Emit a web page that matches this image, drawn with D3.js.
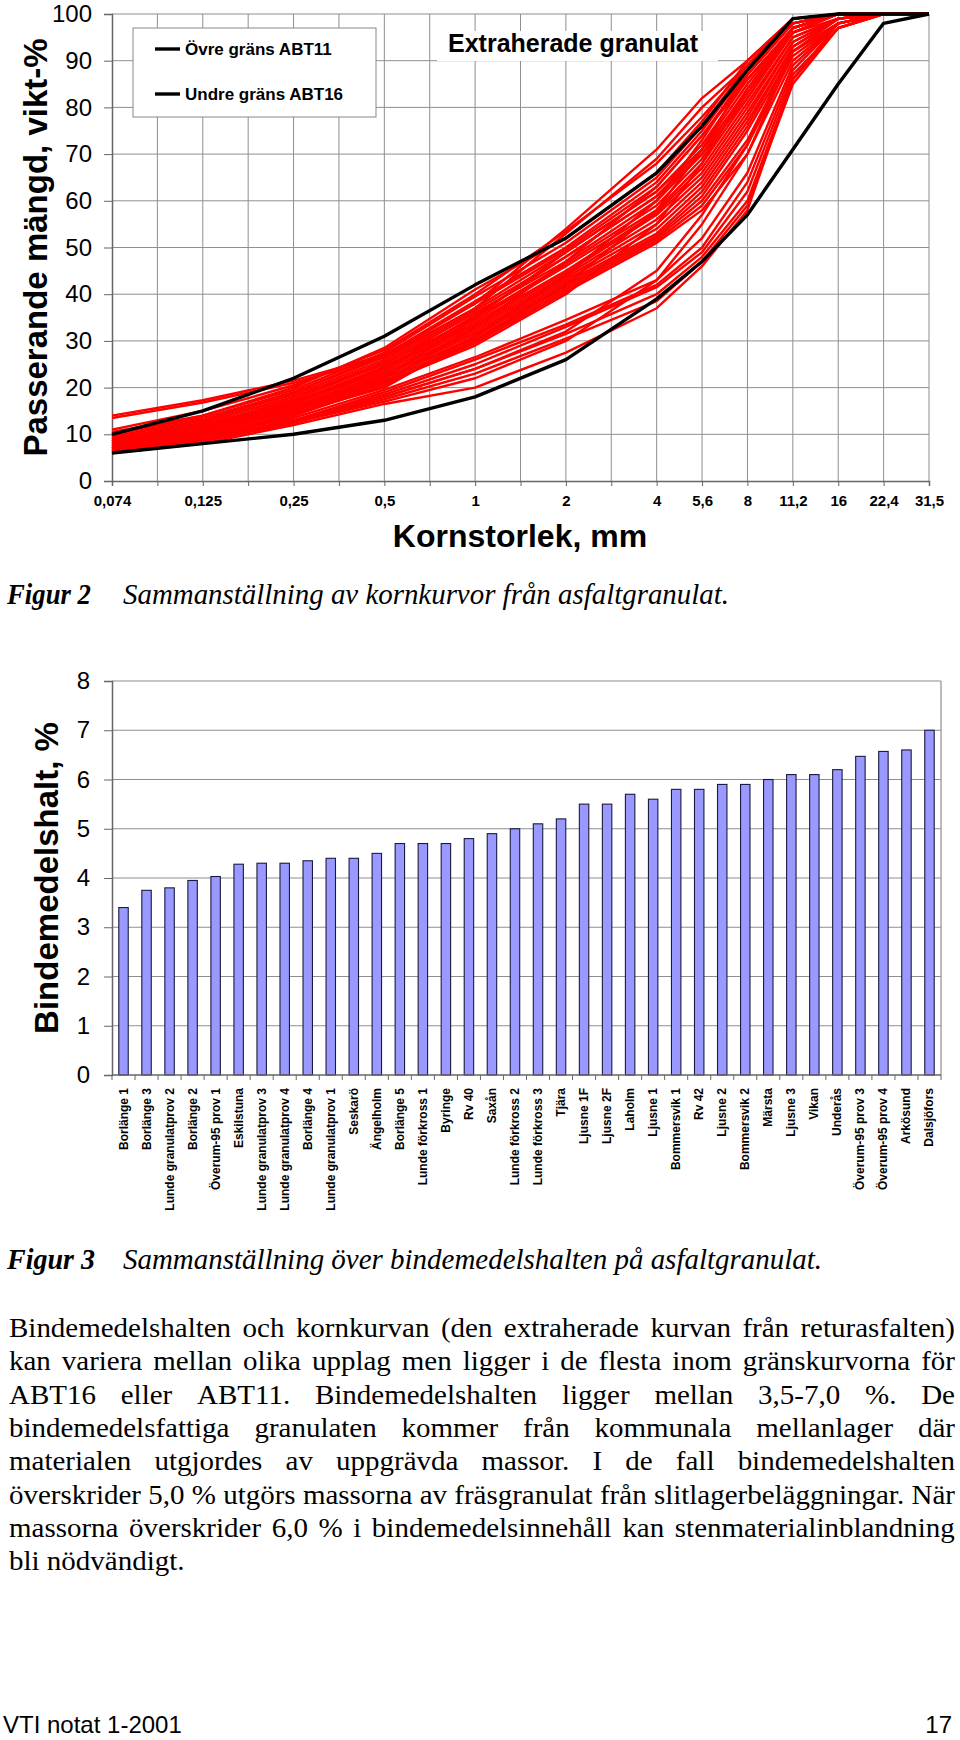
<!DOCTYPE html>
<html><head><meta charset="utf-8">
<script src="https://cdn.jsdelivr.net/npm/d3@7"></script>
<style>body{margin:0;background:#fff} svg{display:block}</style>
</head><body>
<svg id="c" width="960" height="1740"></svg>
<script>
// ---------- Figur 2 data ----------
const sieveLabels = ["0,074","","0,125","","0,25","","0,5","","1","","2","","4","5,6","8","11,2","16","22,4","31,5"];
const sieveIdx = [0,2,4,6,8,10,12,13,14,15,16,17,18]; // categories that carry values
const upperABT11 = [10,15,22,31,42,52,66,76,88,99,100,100,100];
const lowerABT16 = [6,8,10,13,18,26,39,47,57,71,85,98,100];
const redCurves = [
  [14,17.3,21.5,27,38,54,71,82,90,99,100,100,100],
  [13.5,16.8,21,26.5,37,53,69,80,89,99,100,100,100],
  [11,15,20.5,28,40,53.5,68,78,89,98,100,100,100],
  [10.5,14,20,28.5,41,52,66,77,90,99,100,100,100],
  [10,14,19.5,27.5,39.5,51,65,76,89,99,100,100,100],
  [10,13.5,19,27,38.5,50,64,75,88,98,100,100,100],
  [9.5,13,19,26.5,38,49.5,63,74,87,98,100,100,100],
  [9.5,13,18.5,26,37,49,62,72,86,97,100,100,100],
  [9,12.5,18,25.5,36.5,48,61,71,85,97,100,100,100],
  [9,12.5,18,25,36,47,60,70,84,96,100,100,100],
  [8.5,12,17.5,25,35,46.5,59,69,83,97,100,100,100],
  [8.5,12,17,24.5,34.5,46,58,68,82,96,99,100,100],
  [8,11.5,17,24,34,45,57.5,67,81,95,99,100,100],
  [8,11.5,16.5,24,33.5,44.5,57,66,80,95,99,100,100],
  [8,11,16.5,23.5,33,44,56,65,79,94,99,100,100],
  [7.5,11,16,23,32.5,43.5,55,64,78,94,99,100,100],
  [7.5,10.5,16,23,32,43,54,63,77,93,99,100,100],
  [7.5,10.5,15.5,22.5,31.5,42.5,53,62,76,93,99,100,100],
  [7,10.5,15.5,22,31,42,52.5,61,75,92,98,100,100],
  [7,10,15,22,30.5,41.5,52,60,73,92,98,100,100],
  [7,10,15,21.5,30,41,51.5,59,72,91,98,100,100],
  [6.5,9.5,14.5,21,29.5,40.5,51,58,70,90,98,100,100],
  [6.5,9.5,14,21,29,40,55,68,84,97,100,100,100],
  [6.5,9,14,20.5,30,42,58,71,87,98,100,100,100],
  [7,9.5,14.5,20,31,44,60,73,88,98,100,100,100],
  [8,10.5,15,21,33,47,63,74,86,97,100,100,100],
  [9,12,16,22,35,49,62,71,83,96,100,100,100],
  [8.5,11.5,17,24,35.5,48,61,70,82,96,100,100,100],
  [7,9.5,13.5,19.5,26.5,34.5,43,52,66,89,98,100,100],
  [6.5,9,13,19,26,33.5,42,50,64,88,98,100,100],
  [6.5,9,13,18.5,25,33,41.5,49,62,87,97,100,100],
  [6,8.5,12.5,18,24,31.5,40,48,60,86,97,100,100],
  [6,8.5,12.5,17.5,23,30.5,38.5,47,59,85,97,100,100],
  [6,8,12,16.5,20,27.5,37,46,58,86,98,100,100],
  [6.5,8.5,12.5,17,22,30,43,55,70,92,99,100,100],
  [7,9,13,18,24,32,45,57,72,93,99,100,100]
];
const yTicksTop = [0,10,20,30,40,50,60,70,80,90,100];
const legendNames = ["Övre gräns ABT11","Undre gräns ABT16"];

// ---------- Figur 3 data ----------
const barCategories = ["Borlänge 1","Borlänge 3","Lunde granulatprov 2","Borlänge 2","Överum-95 prov 1","Eskilstuna",
  "Lunde granulatprov 3","Lunde granulatprov 4","Borlänge 4","Lunde granulatprov 1","Seskarö","Ängelholm","Borlänge 5",
  "Lunde förkross 1","Byringe","Rv 40","Saxån","Lunde förkross 2","Lunde förkross 3","Tjära","Ljusne 1F","Ljusne 2F",
  "Laholm","Ljusne 1","Bommersvik 1","Rv 42","Ljusne 2","Bommersvik 2","Märsta","Ljusne 3","Vikan","Underås",
  "Överum-95 prov 3","Överum-95 prov 4","Arkösund","Dalsjöfors"];
const barValues = [3.4,3.75,3.8,3.95,4.03,4.28,4.3,4.3,4.35,4.4,4.4,4.5,4.7,4.7,4.7,4.8,4.9,5.0,5.1,5.2,5.5,5.5,
  5.7,5.6,5.8,5.8,5.9,5.9,6.0,6.1,6.1,6.2,6.47,6.57,6.6,7.0];
const yTicksBar = [0,1,2,3,4,5,6,7,8];

// ---------- text ----------
const caption2 = ["Figur 2","Sammanställning av kornkurvor från asfaltgranulat."];
const caption3 = ["Figur 3","Sammanställning över bindemedelshalten på asfaltgranulat."];
const bodyLines = [
  "Bindemedelshalten och kornkurvan (den extraherade kurvan från returasfalten)",
  "kan variera mellan olika upplag men ligger i de flesta inom gränskurvorna för",
  "ABT16 eller ABT11. Bindemedelshalten ligger mellan 3,5-7,0 %. De",
  "bindemedelsfattiga granulaten kommer från kommunala mellanlager där",
  "materialen utgjordes av uppgrävda massor. I de fall bindemedelshalten",
  "överskrider 5,0 % utgörs massorna av fräsgranulat från slitlagerbeläggningar. När",
  "massorna överskrider 6,0 % i bindemedelsinnehåll kan stenmaterialinblandning",
  "bli nödvändigt."
];

const svg = d3.select("#c");
const SANS = "'Liberation Sans', Arial, sans-serif";
const GRID = "#8f8f8f";

// pick an installed Times-like serif font
function hasFont(name) {
  const t = svg.append("text").attr("font-size", 40).text("abcdefghijklmnopqrstuvwxyz ABCDEFG 0123");
  t.attr("font-family", "monospace");
  const w0 = t.node().getComputedTextLength();
  t.attr("font-family", `"${name}", monospace`);
  const w1 = t.node().getComputedTextLength();
  t.remove();
  return Math.abs(w1 - w0) > 0.5;
}
const serifCands = ["Liberation Serif","Times New Roman","Times","Tinos","Nimbus Roman","Nimbus Roman No9 L","FreeSerif","Noto Serif","DejaVu Serif"];
const serifName = serifCands.find(hasFont) || "serif";
const SERIF = `"${serifName}", serif`;
const timesLike = ["Liberation Serif","Times New Roman","Times","Tinos","Nimbus Roman","Nimbus Roman No9 L","FreeSerif"].includes(serifName);

// ================= FIGUR 2 =================
const L = 112, R = 929, T = 14, B = 481;
const x = d3.scalePoint().domain(d3.range(sieveLabels.length)).range([L, R]);
const y = d3.scaleLinear().domain([0, 100]).range([B, T]);
const g1 = svg.append("g");

g1.append("g").selectAll("line").data(yTicksTop.filter(v => v > 0)).join("line")
  .attr("x1", L).attr("x2", R).attr("y1", d => y(d)).attr("y2", d => y(d))
  .attr("stroke", GRID).attr("stroke-width", 1);
g1.append("g").selectAll("line").data(x.domain().slice(1)).join("line")
  .attr("x1", d => x(d)).attr("x2", d => x(d)).attr("y1", T).attr("y2", B)
  .attr("stroke", GRID).attr("stroke-width", 1);

g1.append("rect").attr("x", 437).attr("y", 31).attr("width", 281).attr("height", 30).attr("fill", "#fff");

const ax = g1.append("g").attr("transform", `translate(0,${B})`)
  .call(d3.axisBottom(x).tickSize(5).tickPadding(9).tickFormat(i => sieveLabels[i]));
ax.select(".domain").attr("stroke", "#666").attr("stroke-width", 1.5);
ax.selectAll(".tick line").attr("stroke", "#666");
ax.selectAll("text").attr("font-family", SANS).attr("font-size", 15).attr("font-weight", "bold").attr("fill", "#000");
const ay = g1.append("g").attr("transform", `translate(${L},0)`)
  .call(d3.axisLeft(y).tickValues(yTicksTop).tickSize(8).tickPadding(12).tickFormat(d3.format("d")));
ay.select(".domain").attr("stroke", "#666").attr("stroke-width", 1.5);
ay.selectAll(".tick line").attr("stroke", "#666");
ay.selectAll("text").attr("font-family", SANS).attr("font-size", 24).attr("fill", "#000");

const lineGen = d3.line().x(d => x(d[0])).y(d => y(d[1]));
const toPts = arr => arr.map((v, k) => [sieveIdx[k], v]);
g1.append("g").selectAll("path").data(redCurves).join("path")
  .attr("d", d => lineGen(toPts(d))).attr("fill", "none")
  .attr("stroke", "#ff0000").attr("stroke-width", 2.4).attr("stroke-linejoin", "round");
g1.append("g").selectAll("path").data([upperABT11, lowerABT16]).join("path")
  .attr("d", d => lineGen(toPts(d))).attr("fill", "none")
  .attr("stroke", "#000").attr("stroke-width", 3.4).attr("stroke-linejoin", "round");

const lg = g1.append("g");
lg.append("rect").attr("x", 133).attr("y", 28).attr("width", 243).attr("height", 89)
  .attr("fill", "#fff").attr("stroke", "#888").attr("stroke-width", 1);
legendNames.forEach((n, i) => {
  const yy = 49 + i * 45;
  lg.append("line").attr("x1", 155).attr("x2", 180).attr("y1", yy).attr("y2", yy)
    .attr("stroke", "#000").attr("stroke-width", 3.4);
  lg.append("text").attr("x", 185).attr("y", yy + 6).text(n)
    .attr("font-family", SANS).attr("font-size", 17).attr("font-weight", "bold");
});

g1.append("text").attr("x", 448).attr("y", 52).text("Extraherade granulat")
  .attr("font-family", SANS).attr("font-size", 25).attr("font-weight", "bold");
g1.append("text").attr("x", 520).attr("y", 547).attr("text-anchor", "middle").text("Kornstorlek, mm")
  .attr("font-family", SANS).attr("font-size", 32).attr("font-weight", "bold");
g1.append("text").attr("transform", `translate(47,${(T + B) / 2}) rotate(-90)`).attr("text-anchor", "middle")
  .text("Passerande mängd, vikt-%").attr("font-family", SANS).attr("font-size", 33).attr("font-weight", "bold");

// ================= FIGUR 3 =================
const L2 = 112, R2 = 941, T2 = 681, B2 = 1075;
const pad = 0.59;
const xb = d3.scaleBand().domain(barCategories).range([L2, R2]).paddingInner(pad).paddingOuter(pad / 2);
const yb = d3.scaleLinear().domain([0, 8]).range([B2, T2]);
const g2 = svg.append("g");
g2.append("g").selectAll("line").data(yTicksBar.filter(v => v > 0)).join("line")
  .attr("x1", L2).attr("x2", R2).attr("y1", d => yb(d)).attr("y2", d => yb(d))
  .attr("stroke", GRID).attr("stroke-width", 1.2);
g2.append("line").attr("x1", R2).attr("x2", R2).attr("y1", T2).attr("y2", B2).attr("stroke", GRID).attr("stroke-width", 1.2);

g2.append("g").selectAll("rect").data(barValues).join("rect")
  .attr("x", (d, i) => xb(barCategories[i])).attr("width", xb.bandwidth())
  .attr("y", d => yb(d)).attr("height", d => B2 - yb(d))
  .attr("fill", "#9999ff").attr("stroke", "#1a1a40").attr("stroke-width", 1.1);

const ayb = g2.append("g").attr("transform", `translate(${L2},0)`)
  .call(d3.axisLeft(yb).tickValues(yTicksBar).tickSize(8).tickPadding(14).tickFormat(d3.format("d")));
ayb.select(".domain").attr("stroke", "#666").attr("stroke-width", 1.5);
ayb.selectAll(".tick line").attr("stroke", "#666");
ayb.selectAll("text").attr("font-family", SANS).attr("font-size", 24).attr("fill", "#000");

const step = xb.step();
g2.append("line").attr("x1", L2).attr("x2", R2).attr("y1", B2).attr("y2", B2).attr("stroke", "#666").attr("stroke-width", 1.5);
g2.append("g").selectAll("line").data(d3.range(barCategories.length + 1)).join("line")
  .attr("x1", k => L2 + k * step).attr("x2", k => L2 + k * step).attr("y1", B2).attr("y2", B2 + 5)
  .attr("stroke", "#666");
g2.append("g").selectAll("text").data(barCategories).join("text")
  .attr("transform", d => `translate(${xb(d) + xb.bandwidth() / 2 + 4},1088) rotate(-90)`)
  .attr("text-anchor", "end").text(d => d)
  .attr("font-family", SANS).attr("font-size", 12).attr("font-weight", "bold");

g2.append("text").attr("transform", `translate(58,${(T2 + B2) / 2}) rotate(-90)`).attr("text-anchor", "middle")
  .text("Bindemedelshalt, %").attr("font-family", SANS).attr("font-size", 33).attr("font-weight", "bold");

// ================= captions & body =================
const FS = timesLike ? 28 : 25;
function caption(c, yb_, wLab, wText) {
  svg.append("text").attr("x", 7).attr("y", yb_).text(c[0])
    .attr("font-family", SERIF).attr("font-size", FS + 1).attr("font-style", "italic").attr("font-weight", "bold")
    .attr("textLength", wLab).attr("lengthAdjust", "spacingAndGlyphs");
  svg.append("text").attr("x", 123).attr("y", yb_).text(c[1])
    .attr("font-family", SERIF).attr("font-size", FS + 1).attr("font-style", "italic")
    .attr("textLength", wText).attr("lengthAdjust", "spacingAndGlyphs");
}
caption(caption2, 604, 84, 606);
caption(caption3, 1269, 88, 699);

const X0 = 9, X1 = 955;
const SPACE = FS * 0.25;
// natural widths of justified lines -> horizontal scale so the longest fits with normal spaces
function wordWidths(line) {
  return line.split(" ").map(w => {
    const t = svg.append("text").attr("font-family", SERIF).attr("font-size", FS).text(w);
    const wd = t.node().getComputedTextLength(); t.remove(); return wd;
  });
}
const allWidths = bodyLines.map(wordWidths);
const natural = allWidths.map(ws => d3.sum(ws) + SPACE * (ws.length - 1));
const SX = (X1 - X0) / d3.max(natural.slice(0, -1));
bodyLines.forEach((line, i) => {
  const yy = 1337 + i * 33.3;
  const g = svg.append("g").attr("transform", `translate(${X0},${yy}) scale(${SX},1)`);
  const words = line.split(" ");
  const widths = allWidths[i];
  const last = i === bodyLines.length - 1;
  const avail = (X1 - X0) / SX;
  const gap = (!last && words.length > 1) ? (avail - d3.sum(widths)) / (words.length - 1) : SPACE;
  let cx = 0;
  words.forEach((w, k) => {
    g.append("text").attr("x", cx).text(w).attr("font-family", SERIF).attr("font-size", FS).attr("fill", "#000");
    cx += widths[k] + gap;
  });
});

// footer
svg.append("text").attr("x", 3).attr("y", 1733).text("VTI notat 1-2001")
  .attr("font-family", SANS).attr("font-size", 24);
svg.append("text").attr("x", 952).attr("y", 1733).attr("text-anchor", "end").text("17")
  .attr("font-family", SANS).attr("font-size", 24);
</script>
</body></html>
